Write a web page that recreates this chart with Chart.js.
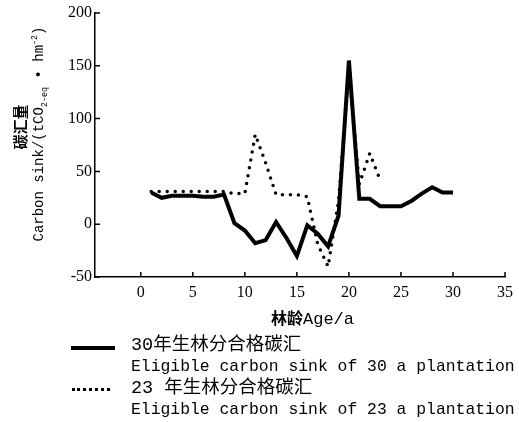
<!DOCTYPE html>
<html>
<head>
<meta charset="utf-8">
<script src="https://cdn.jsdelivr.net/npm/chart.js@4.4.1/dist/chart.umd.min.js"></script>
<style>
    body { margin: 0; background: #fff; }
    #wrap { position: relative; width: 519px; height: 422px; overflow: hidden; }
    #chart { position: absolute; left: 0; top: 0; }
    .abs { position: absolute; white-space: nowrap; color: #000; }
    .rot { transform: translate(-50%, -50%) rotate(-90deg); }
    .mono { font-family: "Liberation Mono", monospace; }
    .cjk { font-family: "Liberation Mono", "Noto Sans CJK SC", sans-serif; }
    .bold { font-family: "Noto Sans CJK SC", sans-serif; font-weight: bold; }
    sub, sup { font-size: 60%; line-height: 0; }
    .swatch { position: absolute; height: 0; }
</style>
</head>
<body>
<div id="wrap">
    <canvas id="chart" width="519" height="422"></canvas>

    <!-- y axis title -->
    <div class="abs rot bold" style="left:19px; top:127px; font-size:15px;">碳汇量</div>
    <div class="abs rot mono" style="left:39px; top:134px; font-size:14px;">Carbon sink/(tCO<sub>2-eq</sub> • hm<sup>-2</sup>)</div>

    <!-- x axis title -->
    <div class="abs" style="left:271px; top:306px; line-height:22px;"><span class="bold" style="font-size:16px;">林龄</span><span class="mono" style="font-size:17px;">Age/a</span></div>

    <!-- legend -->
    <div id="legend"></div>
</div>

<script>
// x values (age, a) and carbon sink values
const ages30 = [1, 2, 3, 4, 5, 6, 7, 8, 9, 10, 11, 12, 13, 14, 15, 16, 17, 18, 19, 20, 21, 22, 23, 24, 25, 26, 27, 28, 29, 30];
const sink30 = [30, 25, 27, 27, 27, 26, 26, 28, 1, -6, -18, -15, 2, -13, -30, -1, -9, -21, 8, 155, 24, 24, 17, 17, 17, 22, 29, 35, 30, 30];

const ages23 = [1, 2, 3, 4, 5, 6, 7, 8, 9, 10, 11, 12, 13, 14, 15, 16, 17, 18, 19, 20, 21, 22, 23];
const sink23 = [31, 31, 31, 31, 31, 31, 31, 31, 29, 29, 85, 58, 28, 28, 28, 26, -19, -40, 22, 145, 38, 67, 42];

const xTicks = [0, 5, 10, 15, 20, 25, 30, 35];
const yTicks = [-50, 0, 50, 100, 150, 200];

const legendZh = ['30年生林分合格碳汇', '23 年生林分合格碳汇'];
const legendEn = ['Eligible carbon sink of 30 a plantation', 'Eligible carbon sink of 23 a plantation'];

const toPoints = (xs, ys) => xs.map((x, i) => ({ x: x, y: ys[i] }));

const tickFont = { family: '"Liberation Serif", "Times New Roman", serif', size: 16 };

// Draw short tick marks pointing into the plot area
const inwardTicks = {
    id: 'inwardTicks',
    afterDraw(chart) {
        const { ctx, chartArea, scales } = chart;
        const len = 5;
        ctx.save();
        ctx.strokeStyle = '#000';
        ctx.lineWidth = 1.5;
        ctx.beginPath();
        scales.x.ticks.forEach(t => {
            const px = scales.x.getPixelForValue(t.value);
            ctx.moveTo(px, chartArea.bottom);
            ctx.lineTo(px, chartArea.bottom - len);
        });
        scales.y.ticks.forEach(t => {
            const py = scales.y.getPixelForValue(t.value);
            ctx.moveTo(chartArea.left, py);
            ctx.lineTo(chartArea.left + len, py);
        });
        ctx.stroke();
        ctx.restore();
    }
};

new Chart(document.getElementById('chart'), {
    type: 'line',
    data: {
        datasets: [
            {
                label: legendZh[0],
                data: toPoints(ages30, sink30),
                borderColor: '#000',
                borderWidth: 4,
                pointRadius: 0,
                tension: 0,
                fill: false
            },
            {
                label: legendZh[1],
                data: toPoints(ages23, sink23),
                borderColor: '#000',
                borderWidth: 3.5,
                borderDash: [0, 8],
                borderCapStyle: 'round',
                pointRadius: 0,
                tension: 0,
                fill: false
            }
        ]
    },
    options: {
        responsive: false,
        animation: false,
        layout: { padding: { top: 13, right: 13, left: 0, bottom: 0 } },
        plugins: {
            legend: { display: false }, // html legend below
            tooltip: { enabled: false }
        },
        scales: {
            x: {
                type: 'linear',
                min: -4.4,
                max: 35,
                afterBuildTicks: (scale) => { scale.ticks = xTicks.map(v => ({ value: v })); },
                afterFit: (scale) => { scale.height = 145; },
                border: { color: '#000', width: 1.5 },
                grid: { display: false, drawTicks: false },
                ticks: { color: '#000', font: tickFont, padding: 6, maxRotation: 0 }
            },
            y: {
                min: -50,
                max: 200,
                afterBuildTicks: (scale) => { scale.ticks = yTicks.map(v => ({ value: v })); },
                afterFit: (scale) => { scale.width = 95; },
                border: { color: '#000', width: 1.5 },
                grid: { display: false, drawTicks: false },
                ticks: { color: '#000', font: tickFont, padding: 3 }
            }
        }
    },
    plugins: [inwardTicks]
});

// Custom legend (two rows per series: Chinese + English)
const legend = document.getElementById('legend');
const rows = [
    { top: 335, swatch: 'border-top:4px solid #000; left:71px; width:44px; top:346px;' },
    { top: 378, swatch: 'border-top:3.5px dotted #000; left:72px; width:38px; top:388px;' }
];
rows.forEach((r, i) => {
    legend.insertAdjacentHTML('beforeend',
        `<div class="swatch" style="${r.swatch}"></div>` +
        `<div class="abs cjk" style="left:131px; top:${r.top}px; font-size:18.5px; line-height:22px;">${legendZh[i]}</div>` +
        `<div class="abs mono" style="left:131px; top:${r.top + 22}px; font-size:16.4px; line-height:20px;">${legendEn[i]}</div>`);
});
</script>
</body>
</html>
